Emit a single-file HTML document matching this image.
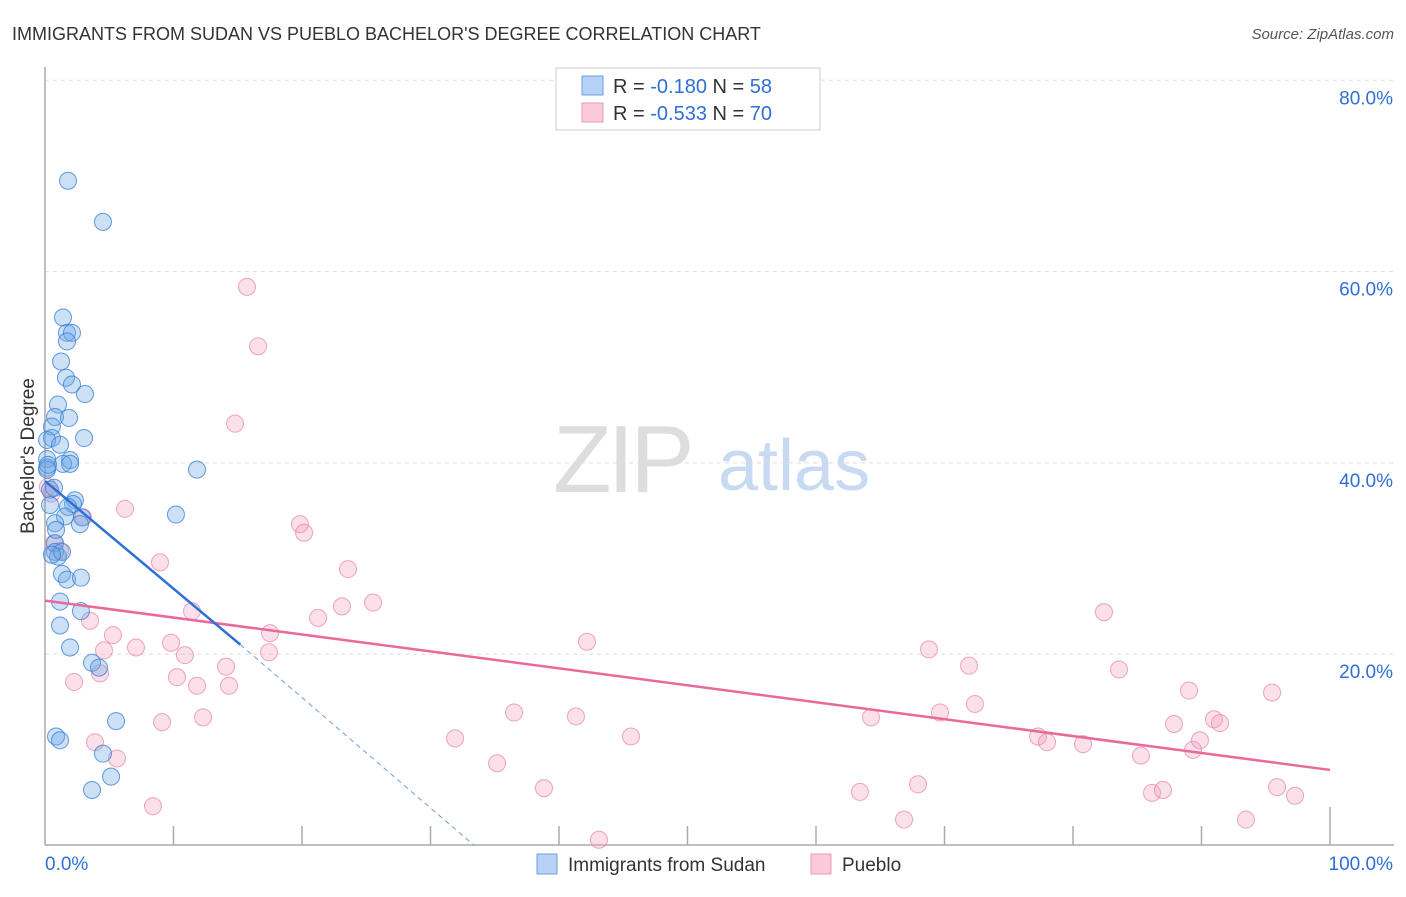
<!DOCTYPE html>
<html><head><meta charset="utf-8">
<style>
body{margin:0;background:#fff;font-family:"Liberation Sans",sans-serif;}
svg text{font-family:"Liberation Sans",sans-serif;}
</style></head>
<body>
<svg id="chart" width="1406" height="892" viewBox="0 0 1406 892">
<text x="12" y="40" font-size="18" fill="#333">IMMIGRANTS FROM SUDAN VS PUEBLO BACHELOR'S DEGREE CORRELATION CHART</text>
<text x="1394" y="39" font-size="15" fill="#555" font-style="italic" text-anchor="end">Source: ZipAtlas.com</text>
<g>
<text x="553" y="492" font-size="96" font-family="Liberation Serif" fill="#ddd" letter-spacing="-4">ZIP</text>
<text x="718" y="490" font-size="72" fill="#c8daf2">atlas</text>
</g>
<g id="grid"></g>
<g id="axes"></g>
<g id="pts"></g>
<g id="trend"></g>
<text x="34" y="456" font-size="19" fill="#333" text-anchor="middle" transform="rotate(-90 34 456)">Bachelor's Degree</text>
<g>
<rect x="556" y="68" width="264" height="62" fill="#fff" stroke="#ccc"/>
<rect x="582" y="76" width="21" height="19" fill="#b7d2f4" stroke="#6a9fe0"/>
<rect x="582" y="103" width="21" height="19" fill="#f9cad8" stroke="#eb9ab5"/>
<text x="613" y="93" font-size="20" fill="#333">R = <tspan fill="#2f6fd6">-0.180</tspan>   N = <tspan fill="#2f6fd6">58</tspan></text>
<text x="613" y="120" font-size="20" fill="#333">R = <tspan fill="#2f6fd6">-0.533</tspan>   N = <tspan fill="#2f6fd6">70</tspan></text>
</g>
<g>
<rect x="537" y="854" width="20" height="20" fill="#b7d2f4" stroke="#6a9fe0"/>
<text x="568" y="871" font-size="19" fill="#333">Immigrants from Sudan</text>
<rect x="811" y="854" width="20" height="20" fill="#f9cad8" stroke="#eb9ab5"/>
<text x="842" y="871" font-size="19" fill="#333">Pueblo</text>
</g>
</svg>
<script>
const yTicks=[20,40,60,80];
const yTickLabels=["20.0%","40.0%","60.0%","80.0%"];
const xTicks=[10,20,30,40,50,60,70,80,90,100];
const xEndLabels=["0.0%","100.0%"];
const sudanX=[1.79,4.51,1.40,1.71,2.10,1.71,1.25,1.63,2.10,3.11,1.01,0.78,1.87,0.54,0.54,3.04,0.16,0.16,1.95,1.40,1.95,0.16,11.83,0.39,2.33,2.18,1.79,1.56,2.88,10.19,0.78,2.72,0.78,0.78,1.01,1.32,1.32,1.71,2.80,1.17,2.80,1.17,1.95,3.66,4.20,5.53,0.86,1.17,4.51,5.14,3.66,0.16,0.39,0.54,0.86,0.23,1.17,0.70];
const sudanY=[69.5,65.2,55.2,53.6,53.6,52.7,50.6,48.9,48.2,47.2,46.1,44.8,44.7,43.8,42.6,42.6,42.4,40.4,40.3,39.9,39.9,39.5,39.3,37.2,36.1,35.7,35.4,34.4,34.3,34.6,33.7,33.6,31.6,30.7,30.2,30.7,28.4,27.8,28.0,25.5,24.5,23.0,20.7,19.1,18.6,13.0,11.4,11.0,9.6,7.2,5.8,39.3,35.6,30.4,33.0,39.8,41.9,37.4];
const puebloX=[15.72,16.58,14.79,6.23,19.84,20.16,2.96,0.70,1.17,0.23,8.95,23.58,25.53,23.11,21.25,11.44,3.50,5.29,7.08,9.81,10.89,17.51,17.43,4.59,14.09,10.27,2.26,11.83,14.32,4.28,9.11,12.30,3.89,5.60,8.40,36.50,31.91,35.18,38.83,41.32,42.18,45.60,43.11,64.28,68.79,69.65,71.91,72.37,63.42,66.85,67.94,77.28,77.98,80.78,82.41,83.58,85.29,86.15,87.00,87.86,89.03,89.34,89.88,90.97,91.44,93.46,95.49,95.88,97.28,0.5];
const puebloY=[58.4,52.2,44.1,35.2,33.6,32.7,34.3,31.6,30.8,37.5,29.6,28.9,25.4,25.0,23.8,24.5,23.5,22.0,20.7,21.2,19.9,22.2,20.2,20.4,18.7,17.6,17.1,16.7,16.7,18.0,12.9,13.4,10.8,9.1,4.1,13.9,11.2,8.6,6.0,13.5,21.3,11.4,0.6,13.4,20.5,13.9,18.8,14.8,5.6,2.7,6.4,11.4,10.8,10.6,24.4,18.4,9.4,5.5,5.8,12.7,16.2,10.0,11.0,13.2,12.8,2.7,16.0,6.1,5.2,36.8];
const sudanTrend=[[0,38.1],[15.2,21.0]];
const sudanTrendExt=[[15.2,21.0],[33.4,0]];
const puebloTrend=[[0,25.6],[100,7.9]];

const NS="http://www.w3.org/2000/svg";
const X=v=>45+v*12.85;
const Y=v=>845.5-v*9.565;
function mk(tag,parent,attrs){const e=document.createElementNS(NS,tag);for(const k in attrs)e.setAttribute(k,attrs[k]);parent.appendChild(e);return e;}
const grid=document.getElementById('grid'),axes=document.getElementById('axes'),pts=document.getElementById('pts'),trend=document.getElementById('trend');
yTicks.forEach((t,i)=>{
  const l=mk('line',grid,{x1:45,x2:1394,y1:Y(t),y2:Y(t),stroke:'#ddd','stroke-dasharray':'4,4'});
  
  
  const tx=mk('text',grid,{x:1393,y:Y(t)+24,'font-size':19,fill:'#2f6fd6','text-anchor':'end'});
  tx.textContent=yTickLabels[i];
  
  
});
const ax=mk('line',axes,{x1:45,x2:1394,y1:845,y2:845,stroke:'#aaa','stroke-width':1.5});


const ay=mk('line',axes,{x1:45,x2:45,y1:67,y2:845,stroke:'#aaa','stroke-width':1.5});


xTicks.forEach(t=>{
  const tk=mk('line',axes,{x1:X(t),x2:X(t),y1:t===100?807:826,y2:845,stroke:'#aaa','stroke-width':1.5});
  
  
});
const l0=mk('text',axes,{x:45,y:870,'font-size':19,fill:'#2f6fd6'});l0.textContent=xEndLabels[0];


const l1=mk('text',axes,{x:1393,y:870,'font-size':19,fill:'#2f6fd6','text-anchor':'end'});l1.textContent=xEndLabels[1];


puebloX.forEach((v,i)=>{
  const c=mk('circle',pts,{cx:X(v),cy:Y(puebloY[i]),r:8.5,fill:'rgba(244,160,190,0.32)',stroke:'rgba(230,130,165,0.7)','stroke-width':1});
  
  
});
sudanX.forEach((v,i)=>{
  const c=mk('circle',pts,{cx:X(v),cy:Y(sudanY[i]),r:8.5,fill:'rgba(110,165,230,0.35)',stroke:'rgba(60,130,215,0.8)','stroke-width':1});
  
  
});
const pt=mk('line',trend,{x1:X(puebloTrend[0][0]),y1:Y(puebloTrend[0][1]),x2:X(puebloTrend[1][0]),y2:Y(puebloTrend[1][1]),stroke:'#e8699a','stroke-width':2.5});


const st=mk('line',trend,{x1:X(sudanTrend[0][0]),y1:Y(sudanTrend[0][1]),x2:X(sudanTrend[1][0]),y2:Y(sudanTrend[1][1]),stroke:'#2f6fd6','stroke-width':2.5});


const se=mk('line',trend,{x1:X(sudanTrendExt[0][0]),y1:Y(sudanTrendExt[0][1]),x2:X(sudanTrendExt[1][0]),y2:Y(sudanTrendExt[1][1]),stroke:'#6a9fe0','stroke-width':1,'stroke-dasharray':'5,4'});


</script>
</body></html>
